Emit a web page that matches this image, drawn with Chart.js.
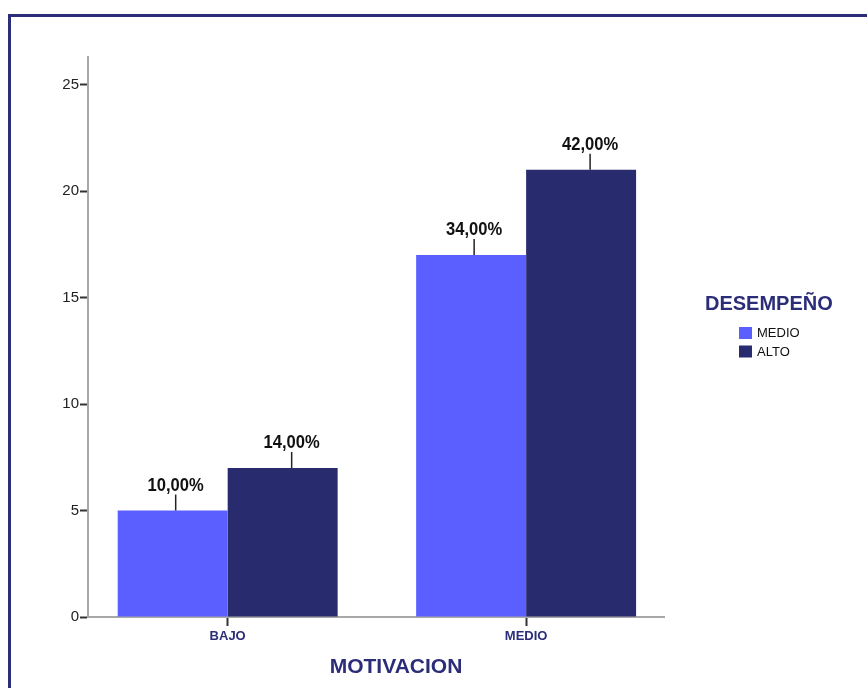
<!DOCTYPE html>
<html>
<head>
<meta charset="utf-8">
<script src="https://cdn.jsdelivr.net/npm/chart.js@4.4.0/dist/chart.umd.min.js"></script>
<style>
  html, body { margin: 0; padding: 0; background: #fff; overflow: hidden; width: 867px; height: 688px; }
  #frame { position: absolute; left: 8px; top: 14px; width: 920px; height: 740px; border: 3px solid #2b2d78; box-sizing: border-box; }
  #wrap { position: absolute; left: 0; top: 0; width: 867px; height: 688px; }
</style>
</head>
<body>
<div id="frame"></div>
<div id="wrap"><canvas id="chart" width="867" height="688"></canvas></div>
<script>
// Categories on the horizontal axis (MOTIVACION) and the two DESEMPEÑO series
const categories = ['BAJO', 'MEDIO'];
const seriesNames = ['MEDIO', 'ALTO'];
const medioCounts = [5, 17];
const altoCounts = [7, 21];
const yTicks = [0, 5, 10, 15, 20, 25];
const xTitle = 'MOTIVACION';
const legendTitle = 'DESEMPEÑO';

const FONT = '"Liberation Sans", Arial, Helvetica, sans-serif';
const NAVY = '#2b2d78';

const total = medioCounts.concat(altoCounts).reduce((a, b) => a + b, 0);
const toPoints = arr => arr.map((v, i) => ({ x: i, y: v }));
const pctLabel = v => (v / total * 100).toFixed(2).replace('.', ',') + '%';

// Percent labels with a short leader line above each bar
const valueLabels = {
  id: 'valueLabels',
  afterDatasetsDraw(chart, args, opts) {
    const ctx = chart.ctx;
    ctx.save();
    chart.data.datasets.forEach((ds, di) => {
      const meta = chart.getDatasetMeta(di);
      const shift = opts.shift[di] || 0;
      meta.data.forEach((bar, i) => {
        const x = bar.x + shift;
        const top = bar.y;
        ctx.strokeStyle = '#222';
        ctx.lineWidth = 1.5;
        ctx.beginPath();
        ctx.moveTo(x, top);
        ctx.lineTo(x, top - 16);
        ctx.stroke();
        // slightly condensed bold label
        ctx.save();
        ctx.translate(x, top - 20);
        ctx.scale(0.92, 1);
        ctx.fillStyle = '#111';
        ctx.font = 'bold 18px ' + FONT;
        ctx.textAlign = 'center';
        ctx.textBaseline = 'alphabetic';
        ctx.fillText(pctLabel(ds.data[i].y), 0, 0);
        ctx.restore();
      });
    });
    ctx.restore();
  }
};

// Axis title and legend block to the right of the plot
const sideTexts = {
  id: 'sideTexts',
  afterDraw(chart) {
    const ctx = chart.ctx;
    const area = chart.chartArea;
    ctx.save();
    // x axis title
    ctx.fillStyle = NAVY;
    ctx.font = 'bold 21px ' + FONT;
    ctx.textAlign = 'center';
    ctx.textBaseline = 'alphabetic';
    ctx.fillText(xTitle, (area.left + area.right) / 2 + 20, area.bottom + 56);

    // legend
    const lx = area.right + 41;
    ctx.textAlign = 'left';
    ctx.font = 'bold 20px ' + FONT;
    ctx.fillText(legendTitle, lx, 310);
    ctx.font = '13px ' + FONT;
    chart.data.datasets.forEach((ds, i) => {
      const by = 327 + i * 18.5;
      ctx.fillStyle = ds.backgroundColor;
      ctx.fillRect(lx + 34, by, 13, 12);
      ctx.fillStyle = '#111';
      ctx.textBaseline = 'middle';
      ctx.fillText(ds.label, lx + 52, by + 6.5);
    });
    ctx.restore();
  }
};

new Chart(document.getElementById('chart'), {
  type: 'bar',
  data: {
    datasets: [
      { label: seriesNames[0], data: toPoints(medioCounts), backgroundColor: '#5b5fff', borderWidth: 0 },
      { label: seriesNames[1], data: toPoints(altoCounts), backgroundColor: '#292b6f', borderWidth: 0 }
    ]
  },
  options: {
    responsive: false,
    animation: false,
    layout: { padding: { left: 0, top: 57, right: 203, bottom: 31 } },
    datasets: { bar: { categoryPercentage: 0.737, barPercentage: 1 } },
    plugins: {
      legend: { display: false },
      tooltip: { enabled: false },
      valueLabels: { shift: [3, 9] }
    },
    scales: {
      x: {
        type: 'linear',
        min: -0.468,
        max: 1.462,
        offset: false,
        afterBuildTicks: s => { s.ticks = categories.map((c, i) => ({ value: i })); },
        afterFit: s => { s.height = 40; },
        grid: { display: true, offset: false, drawOnChartArea: false, drawTicks: true, tickLength: 9, tickWidth: 2, tickColor: '#333' },
        border: { display: true, color: '#a8a8a8', width: 2 },
        ticks: {
          callback: v => categories[v],
          autoSkip: false, maxRotation: 0, padding: 3,
          color: NAVY,
          font: { family: FONT, size: 13, weight: 'bold' }
        }
      },
      y: {
        min: 0,
        max: 26.3,
        afterBuildTicks: s => { s.ticks = yTicks.map(v => ({ value: v })); },
        afterFit: s => { s.width = 88; },
        grid: { display: true, drawOnChartArea: false, drawTicks: true, tickLength: 8, tickWidth: 2, tickColor: '#333' },
        border: { display: true, color: '#a8a8a8', width: 2 },
        ticks: {
          padding: 1,
          color: '#222',
          font: { family: FONT, size: 15 }
        }
      }
    }
  },
  plugins: [valueLabels, sideTexts]
});
</script>
</body>
</html>
